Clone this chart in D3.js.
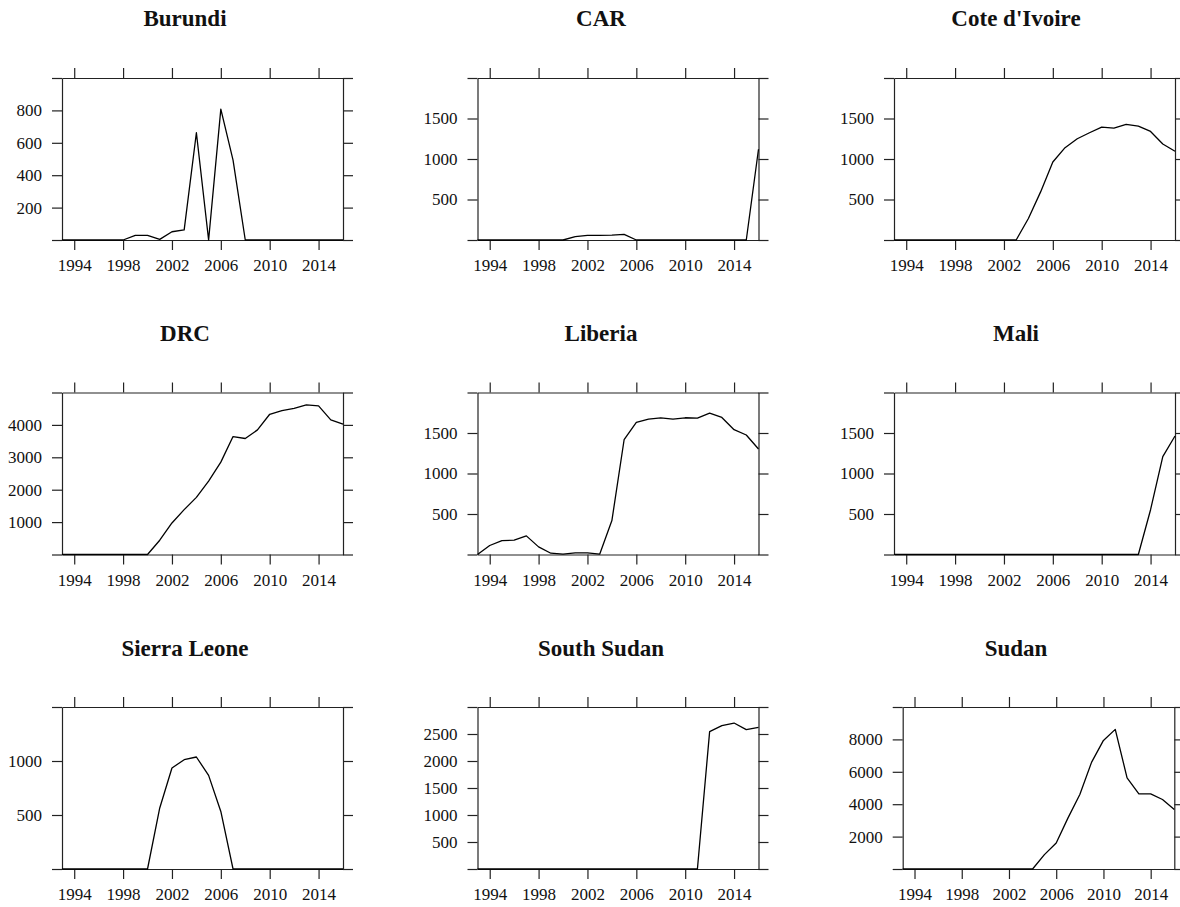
<!DOCTYPE html>
<html>
<head>
<meta charset="utf-8">
<script src="https://cdnjs.cloudflare.com/ajax/libs/d3/7.8.5/d3.min.js"></script>
<style>
  body { margin: 0; background: #fff; }
  svg { display: block; }
  .axis path, .axis line { stroke: #222; stroke-width: 1.2; }
  .axis text { font-family: "Liberation Serif", "Times New Roman", serif; font-size: 17px; fill: #111; }
  .title { font-family: "Liberation Serif", "Times New Roman", serif; font-size: 23px; font-weight: bold; fill: #111; }
</style>
</head>
<body>
<svg id="chart" width="1180" height="907"></svg>
<script>
// Years on the x axis
var years = d3.range(1993, 2017);
var yearTicks = [1994, 1998, 2002, 2006, 2010, 2014];

// Country names, in panel order
var countries = ["Burundi", "CAR", "Cote d'Ivoire", "DRC", "Liberia", "Mali", "Sierra Leone", "South Sudan", "Sudan"];

// One value per year, 1993..2016
var burundi = [0, 0, 0, 0, 0, 0, 29, 29, 4, 51, 62, 662, 0, 808, 493, 0, 0, 0, 0, 0, 0, 0, 0, 0];
var car = [0, 0, 0, 0, 0, 0, 0, 0, 41, 57, 57, 61, 70, 0, 0, 0, 0, 0, 0, 0, 0, 0, 0, 1120];
var coteDIvoire = [0, 0, 0, 0, 0, 0, 0, 0, 0, 0, 0, 266, 594, 963, 1140, 1250, 1324, 1394, 1382, 1427, 1406, 1340, 1185, 1095];
var drc = [0, 0, 0, 0, 0, 0, 0, 0, 441, 974, 1385, 1764, 2267, 2851, 3641, 3580, 3846, 4328, 4441, 4513, 4615, 4585, 4154, 4021];
var liberia = [0, 111, 172, 177, 230, 94, 16, 4, 20, 20, 4, 419, 1417, 1631, 1672, 1688, 1672, 1688, 1684, 1746, 1692, 1541, 1475, 1302];
var mali = [0, 0, 0, 0, 0, 0, 0, 0, 0, 0, 0, 0, 0, 0, 0, 0, 0, 0, 0, 0, 0, 553, 1209, 1463];
var sierraLeone = [0, 0, 0, 0, 0, 0, 0, 0, 565, 935, 1012, 1037, 867, 533, 0, 0, 0, 0, 0, 0, 0, 0, 0, 0];
var southSudan = [0, 0, 0, 0, 0, 0, 0, 0, 0, 0, 0, 0, 0, 0, 0, 0, 0, 0, 0, 2543, 2654, 2703, 2580, 2623];
var sudan = [0, 0, 0, 0, 0, 0, 0, 0, 0, 0, 0, 0, 887, 1608, 3155, 4598, 6598, 7938, 8619, 5629, 4639, 4639, 4289, 3670];

// y axis top and tick step for each panel
var yMax = [1000, 2000, 2000, 5000, 2000, 2000, 1500, 3000, 10000];
var yStep = [200, 500, 500, 1000, 500, 500, 500, 500, 2000];

var series = [burundi, car, coteDIvoire, drc, liberia, mali, sierraLeone, southSudan, sudan];

var svg = d3.select("#chart");

var boxW = 281, boxH = 162, tick = 10;
var colLeft = [62, 477.5, 894];
var rowTop = [78, 392.5, 707];
var titleCenter = [185, 601, 1016];
var titleBase = [26, 341, 656];

countries.forEach(function(name, i) {
  var col = i % 3, row = Math.floor(i / 3);
  var left = colLeft[col];
  var width = boxW;
  // Sudan's box starts a little further right
  if (name === "Sudan") { left = 902.7; width = 1174.3 - left; }

  var g = svg.append("g").attr("transform", "translate(" + left + "," + rowTop[row] + ")");

  var x = d3.scaleLinear().domain([1993, 2016]).range([0, width]);
  var y = d3.scaleLinear().domain([0, yMax[i]]).range([boxH, 0]);
  var yTicks = d3.range(0, yMax[i] + 1, yStep[i]);
  var yFmt = function(d) { return (d === 0 || d === yMax[i]) ? "" : d; };

  g.append("g").attr("class", "axis")
    .call(d3.axisLeft(y).tickValues(yTicks).tickFormat(yFmt).tickSize(tick).tickSizeOuter(0).tickPadding(10));
  g.append("g").attr("class", "axis")
    .attr("transform", "translate(" + width + ",0)")
    .call(d3.axisRight(y).tickValues(yTicks).tickFormat("").tickSize(tick).tickSizeOuter(0));
  g.append("g").attr("class", "axis")
    .attr("transform", "translate(0," + boxH + ")")
    .call(d3.axisBottom(x).tickValues(yearTicks).tickFormat(d3.format("d")).tickSize(tick).tickSizeOuter(0).tickPadding(9));
  g.append("g").attr("class", "axis")
    .call(d3.axisTop(x).tickValues(yearTicks).tickFormat("").tickSize(tick).tickSizeOuter(0));

  g.selectAll(".axis text").attr("fill", "#111");

  var line = d3.line()
    .x(function(d, j) { return x(years[j]); })
    .y(function(d) { return y(d); });

  g.append("path")
    .datum(series[i])
    .attr("d", line)
    .attr("fill", "none")
    .attr("stroke", "#000")
    .attr("stroke-width", 1.3)
    .attr("stroke-linejoin", "round");

  svg.append("text")
    .attr("class", "title")
    .attr("x", titleCenter[col])
    .attr("y", titleBase[row])
    .attr("text-anchor", "middle")
    .text(name);
});
</script>
</body>
</html>
